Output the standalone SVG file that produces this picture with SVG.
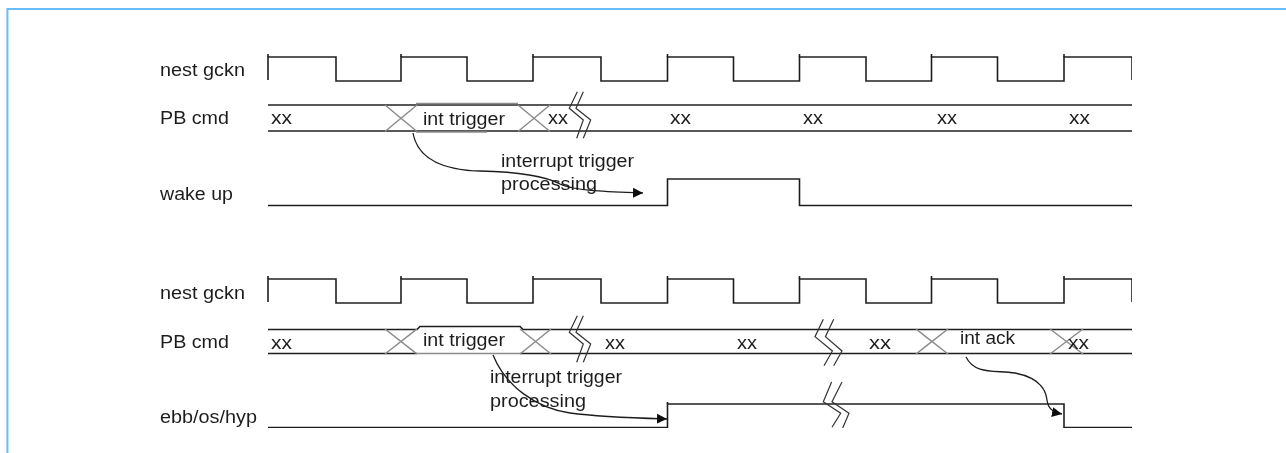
<svg xmlns="http://www.w3.org/2000/svg" width="1286" height="453" viewBox="0 0 1286 453">
<style>
.t{font-family:"Liberation Sans",Arial,sans-serif;font-size:17.500px;fill:#1f1f1f}
.w{fill:none;stroke:#1f1f1f;stroke-width:1.600}
.x{fill:none;stroke:#8c8c8c;stroke-width:1.500}
.b{fill:none;stroke:#333;stroke-width:1.200}
.c{fill:none;stroke:#1f1f1f;stroke-width:1.300;marker-end:url(#a)}
</style>
<defs>
<filter id="soft" x="0" y="0" width="100%" height="100%"><feGaussianBlur stdDeviation="0.350"/></filter>
<marker id="a" markerUnits="userSpaceOnUse" markerWidth="11" markerHeight="12" refX="10" refY="6" orient="auto"><path d="M0 1L10 6L0 11Z" fill="#111"/></marker>
<path id="clk" d="M268 80V57H336V81H401V57H467V81H533V57H601V81H667.500V57H733.500V81H799.500V57H866V81H931.500V57H997.500V81H1064V57H1132V80"/>
<g id="brk"><path d="M577.300 91.700L569.300 108.300L583.300 120L576.700 138.300"/><path d="M583.300 91.700L576 108.300L590.700 120L583.300 138.300"/></g>
</defs>
<path d="M7.400 453V9H1286" fill="none" stroke="#64beff" stroke-width="2"/>
<g filter="url(#soft)">

<g id="wave-a-clock"><use href="#clk" class="w"/><path d="M268 54V57M401 54V57M533 54V57M667.500 54V57M799.500 54V57M931.500 54V57M1064 54V57" class="w"/><text class="t" x="160" y="76" textLength="85" lengthAdjust="spacingAndGlyphs">nest gckn</text></g>

<g id="wave-a-pb">
<path d="M268 105H1132M268 131H1132" class="w"/>
<path d="M416 103.500H518M416 132H487" class="x"/>
<path d="M385 131.500L417 105M385 105L417 131.500M518 131.500L550 105M518 105L550 131.500" class="x"/>
<use href="#brk" class="b"/>
<text class="t" x="160" y="124" textLength="69" lengthAdjust="spacingAndGlyphs">PB cmd</text>
<text class="t" x="271" y="124" textLength="21" lengthAdjust="spacingAndGlyphs">xx</text>
<text class="t" x="423" y="125" textLength="82" lengthAdjust="spacingAndGlyphs">int trigger</text>
<text class="t" x="548" y="124" textLength="20" lengthAdjust="spacingAndGlyphs">xx</text>
<text class="t" x="670" y="124" textLength="21" lengthAdjust="spacingAndGlyphs">xx</text>
<text class="t" x="803" y="124" textLength="20" lengthAdjust="spacingAndGlyphs">xx</text>
<text class="t" x="937" y="124" textLength="20" lengthAdjust="spacingAndGlyphs">xx</text>
<text class="t" x="1069" y="124" textLength="21" lengthAdjust="spacingAndGlyphs">xx</text>
</g>

<g id="wave-a-wake"><path d="M268 205.500H667.500V179H799.500V205.500H1132" class="w"/><text class="t" x="160" y="200" textLength="73" lengthAdjust="spacingAndGlyphs">wake up</text></g>

<g id="note-a"><text class="t" x="501" y="166.500" textLength="133" lengthAdjust="spacingAndGlyphs">interrupt trigger</text><text class="t" x="501" y="190" textLength="96" lengthAdjust="spacingAndGlyphs">processing</text></g>

<g id="wave-b-clock"><g transform="translate(0 222)"><use href="#clk" class="w"/><path d="M268 54V57M401 54V57M533 54V57M667.500 54V57M799.500 54V57M931.500 54V57M1064 54V57" class="w"/></g><text class="t" x="160" y="299" textLength="85" lengthAdjust="spacingAndGlyphs">nest gckn</text></g>

<g id="wave-b-pb">
<path d="M268 329.500H417L420 326.500H520L523 329.500H1132M268 353.500H417M520 353.500H1132" class="w"/>
<path d="M417 353.500H520" class="x"/>
<path d="M385 354L417 329M385 329L417 354M520 354L551 329M520 329L551 354M916 354L948 329M916 329L948 354M1050 354L1083 329M1050 329L1083 354" class="x"/>
<use href="#brk" y="224" class="b"/>
<path d="M823.300 319.300L815 336.700L832.400 351L824 365.700M833.700 319.300L825.400 336.700L842 351L833.700 365.700" class="b"/>
<text class="t" x="160" y="348" textLength="69" lengthAdjust="spacingAndGlyphs">PB cmd</text>
<text class="t" x="271" y="348.500" textLength="21" lengthAdjust="spacingAndGlyphs">xx</text>
<text class="t" x="423" y="346" textLength="82" lengthAdjust="spacingAndGlyphs">int trigger</text>
<text class="t" x="605" y="348.500" textLength="20" lengthAdjust="spacingAndGlyphs">xx</text>
<text class="t" x="737" y="348.500" textLength="20" lengthAdjust="spacingAndGlyphs">xx</text>
<text class="t" x="869" y="348.500" textLength="22" lengthAdjust="spacingAndGlyphs">xx</text>
<text class="t" x="960" y="344" textLength="55" lengthAdjust="spacingAndGlyphs">int ack</text>
<text class="t" x="1068" y="348.500" textLength="21" lengthAdjust="spacingAndGlyphs">xx</text>
</g>

<g id="wave-b-ebb"><path d="M268 427.500H667.500V404H1064V427.500H1132" class="w"/><path d="M667.500 402V404" class="w"/>
<path d="M831.600 382L823.300 401.700L840.700 413.300L832 427.300M842 382L832 401.700L849 413.300L842.700 428" class="b"/>
<text class="t" x="160" y="423" textLength="97" lengthAdjust="spacingAndGlyphs">ebb/os/hyp</text></g>

<g id="note-b"><text class="t" x="490" y="382.500" textLength="132" lengthAdjust="spacingAndGlyphs">interrupt trigger</text><text class="t" x="490" y="406.500" textLength="96" lengthAdjust="spacingAndGlyphs">processing</text></g>

<g id="connectors">
<path d="M413 133C418 160 445 170 480 171C520 172 545 176 560 184C575 191 610 192 643 193" class="c"/>
<path d="M493 355C505 385 535 408 570 413C600 417 635 418 667 419" class="c"/>
<path d="M966 357C975 375 995 370 1015 373C1040 378 1046 390 1047 400C1048 408 1052 412 1062 414" class="c"/>
</g>
</g>
</svg>
